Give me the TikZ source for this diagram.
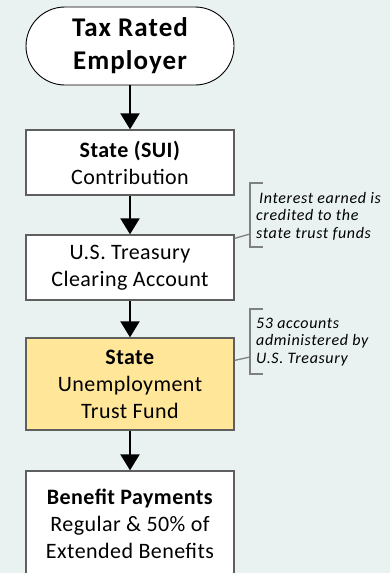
\documentclass[tikz,border=0pt]{standalone}
\usepackage{fontspec}
\setmainfont{Carlito}
\usetikzlibrary{arrows.meta,calc}
\definecolor{bgc}{HTML}{E9F1F1}
\definecolor{boxline}{HTML}{5F5F5F}
\definecolor{fundc}{HTML}{FFE699}
\definecolor{brk}{HTML}{808080}
\tikzset{
  proc/.style={draw=boxline, line width=1.3pt, fill=white, minimum width=208pt, align=center, inner sep=0pt,
    font=\fontsize{22}{27}\selectfont\addfontfeature{LetterSpace=2}},
  term/.style={draw=black, line width=0.9pt, fill=white, rounded corners=39pt, minimum width=208pt, minimum height=78pt,
    align=center, inner sep=0pt, font=\fontsize{27}{33}\selectfont\bfseries\addfontfeature{LetterSpace=4}},
  flow/.style={draw=black, line width=2pt, -{Triangle[width=19pt,length=16pt]}},
  note/.style={anchor=west, align=left, inner sep=0pt, font=\fontsize{16}{17.5}\selectfont\itshape\addfontfeature{LetterSpace=4}},
  bracket/.style={draw=brk, line width=1.3pt},
  link/.style={draw=brk, line width=1.3pt}
}
\begin{document}
\begin{tikzpicture}[x=1pt,y=-1pt]
\fill[bgc] (0,0) rectangle (390,573);
\useasboundingbox (0,0) rectangle (390,573);
\node[term] (emp) at (130,46) {Tax Rated\\Employer};
\node[proc, minimum height=65pt] (sui) at (130,162.5) {\textbf{State (SUI)}\\Contribution};
\node[proc, minimum height=65pt] (clr) at (130,267.5) {U.S. Treasury\\Clearing Account};
\node[proc, minimum height=92pt, fill=fundc] (fund) at (130,384) {\textbf{State}\\Unemployment\\Trust Fund};
\node[proc, minimum height=106pt] (ben) at (130,524) {\textbf{Benefit Payments}\\Regular \& 50\% of\\Extended Benefits};
\draw[flow] (emp.south) -- (sui.north);
\draw[flow] (sui.south) -- (clr.north);
\draw[flow] (clr.south) -- (fund.north);
\draw[flow] (fund.south) -- (ben.north);
% annotation 1
\coordinate (b1t) at (263,183);
\coordinate (b1b) at (263,247);
\coordinate (b1) at (250,234);
\draw[bracket] (b1t) -- (250,183) -- (250,247) -- (b1b);
\draw[link] ($(clr.north east)+(0,4)$) -- (b1);
\node[note] (n1) at (256,216) {\hspace*{3pt}Interest earned is\\credited to the\\state trust funds};
% annotation 2
\coordinate (b2t) at (263,309);
\coordinate (b2b) at (263,374);
\coordinate (b2) at (250,357);
\draw[bracket] (b2t) -- (250,309) -- (250,374) -- (b2b);
\draw[link] ($(fund.north east)+(0,23)$) -- (b2);
\node[note] (n2) at (256,342) {53 accounts\\administered by\\U.S. Treasury};
\end{tikzpicture}
\end{document}
